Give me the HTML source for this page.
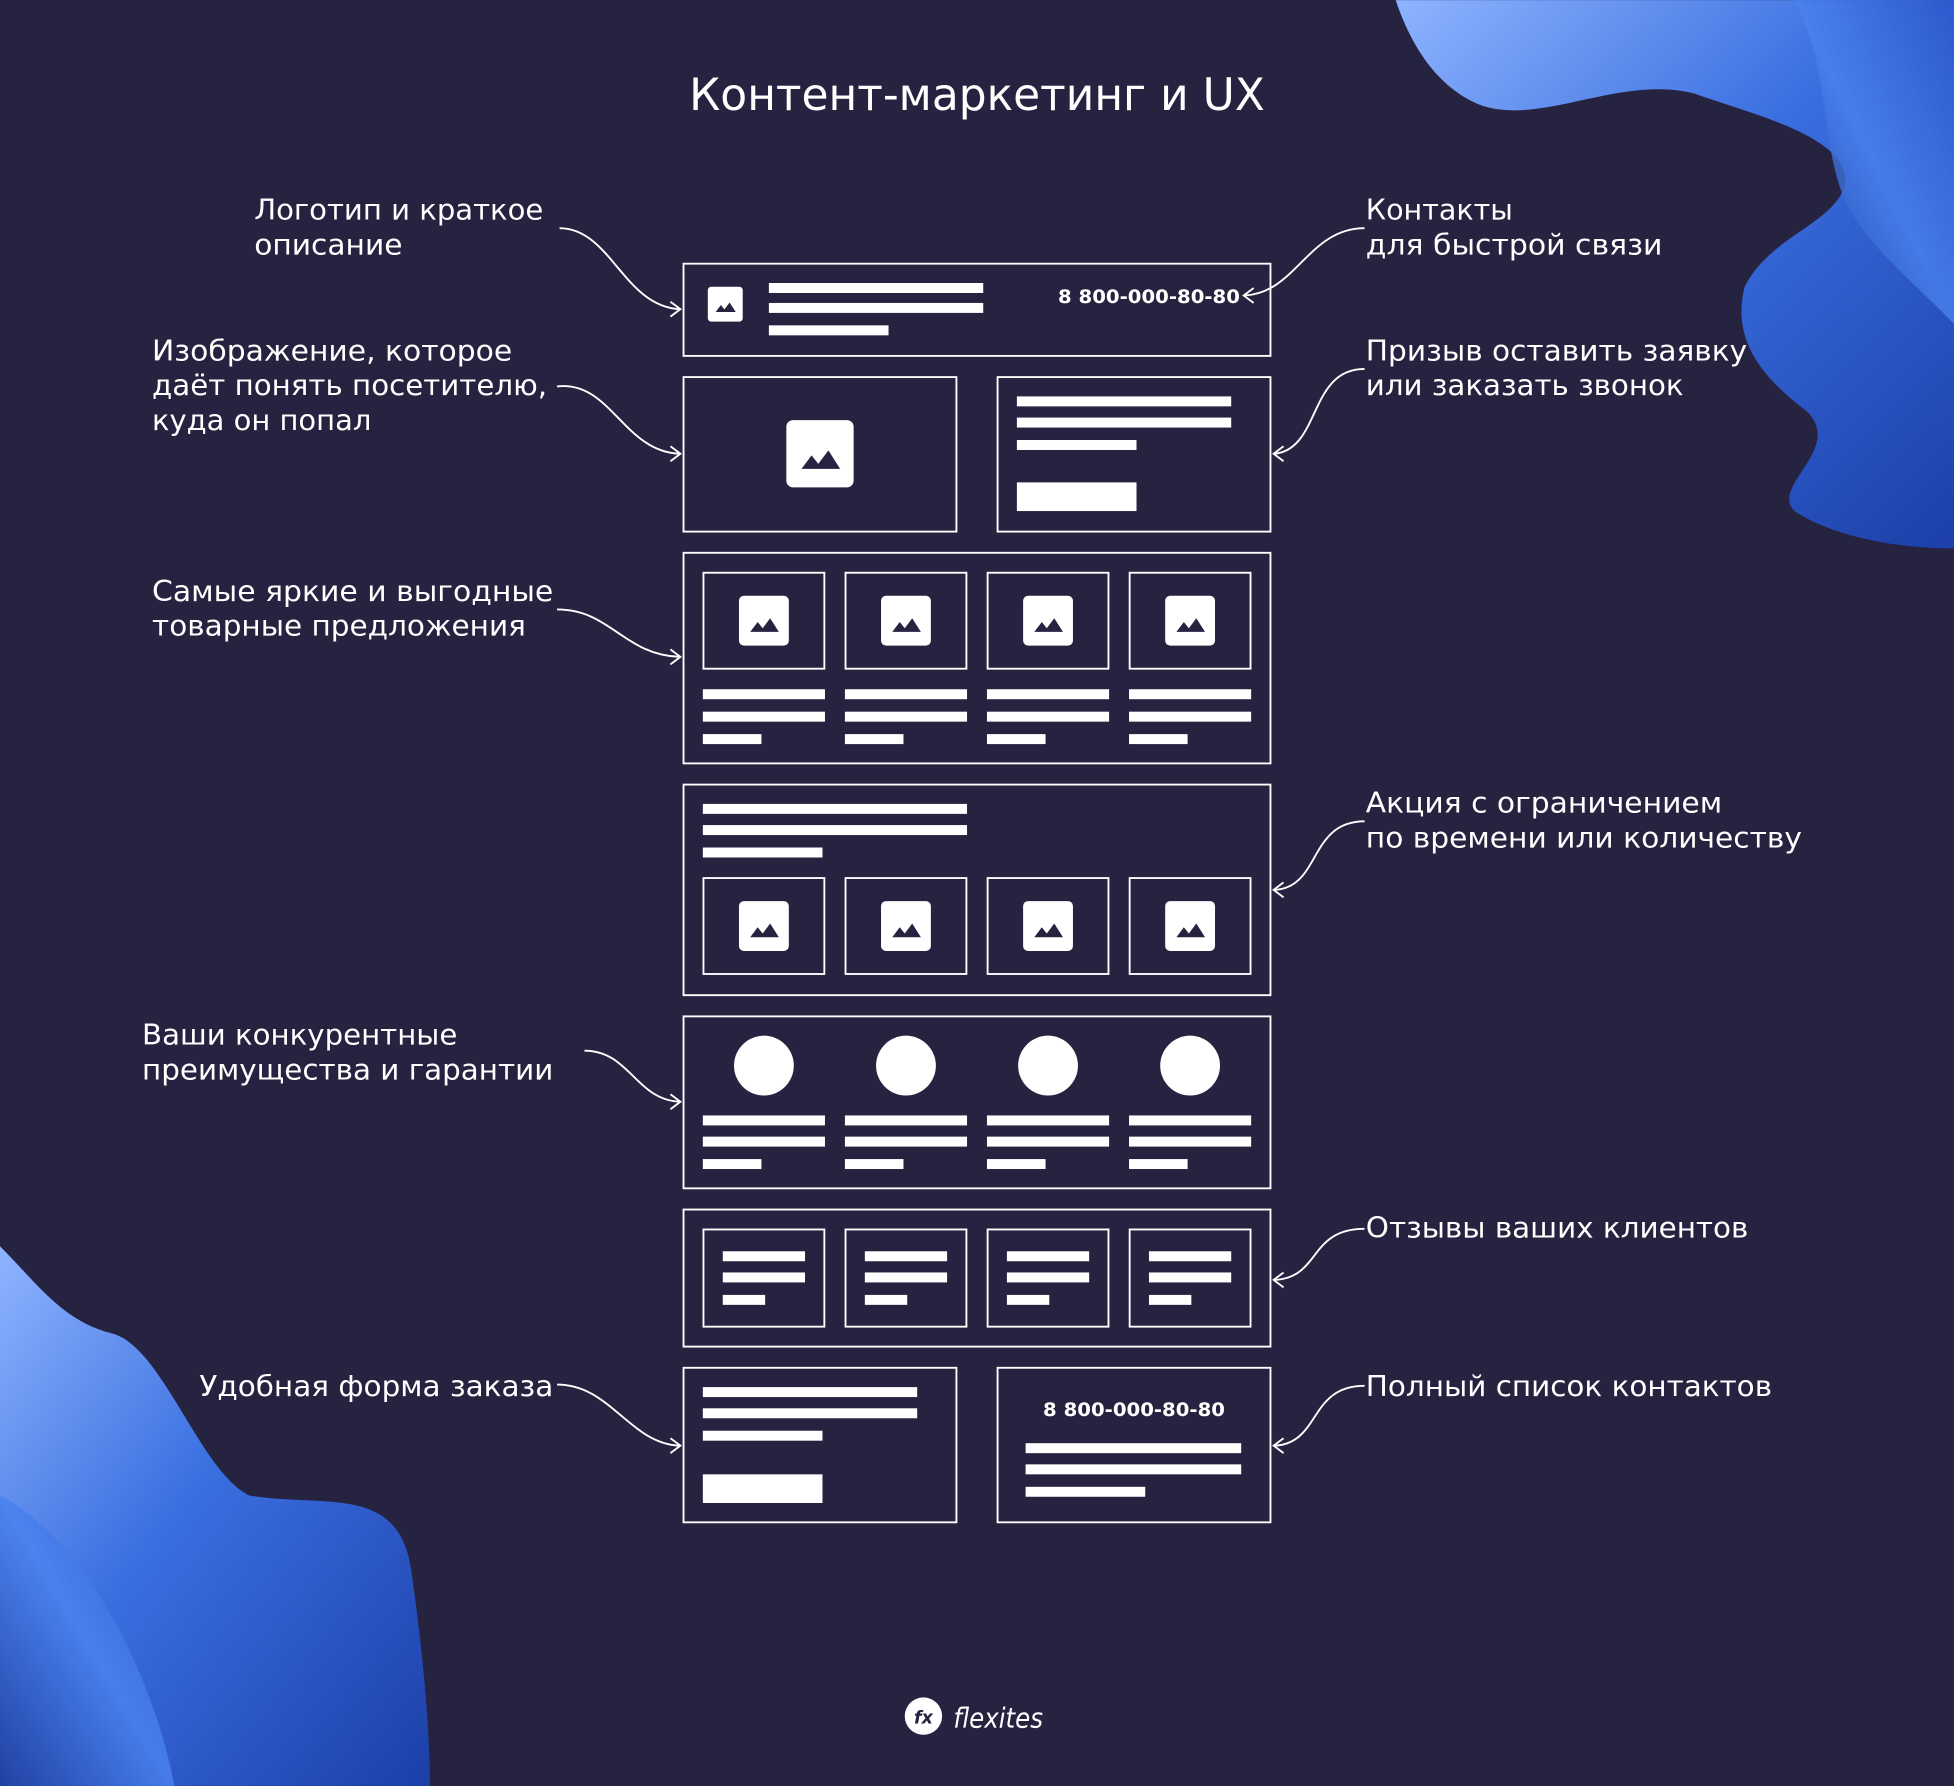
<!DOCTYPE html>
<html><head><meta charset="utf-8"><style>
html,body{margin:0;padding:0;background:#262341;overflow:hidden}
svg{display:block}
text{font-family:"DejaVu Sans","Liberation Sans",sans-serif;fill:#fff}
</style></head><body>
<svg width="1954" height="1786" viewBox="0 0 1568 1433" xmlns="http://www.w3.org/2000/svg">
<defs>
<linearGradient id="bl" x1="0" y1="0" x2="1" y2="1">
<stop offset="0" stop-color="#8fb4ff"/><stop offset="0.45" stop-color="#3a6fe0"/><stop offset="1" stop-color="#1c3fa8"/></linearGradient>
<linearGradient id="bl2" x1="1" y1="0" x2="0" y2="1">
<stop offset="0" stop-color="#2a55c8"/><stop offset="0.5" stop-color="#4a82ee"/><stop offset="1" stop-color="#1d3a9a"/></linearGradient>
<g id="img"><rect x="-20" y="-20" width="40" height="40" rx="4" fill="#fff"/><path d="M-11 9 L-5 1 L-1 6 L5 -2 L12 9 Z" fill="#262341"/></g>
</defs>
<rect width="1568" height="1433" fill="#262341"/>
<path d="M1120 0 L1568 0 L1568 440 C1520 440 1470 430 1440 410 C1420 390 1480 360 1450 330 C1410 300 1390 270 1400 230 C1420 190 1470 180 1480 150 C1490 110 1400 90 1360 75 C1300 60 1240 100 1190 85 C1150 70 1130 30 1120 0 Z" fill="url(#bl)"/>
<path d="M1440 0 L1568 0 L1568 260 C1540 230 1500 200 1480 160 C1460 110 1470 60 1440 0 Z" fill="url(#bl2)" opacity="0.8"/>
<path d="M0 1000 C30 1030 50 1060 90 1070 C130 1080 160 1180 200 1200 C260 1210 320 1190 330 1260 C340 1330 345 1390 345 1433 L0 1433 Z" fill="url(#bl)"/>
<path d="M0 1200 C60 1230 120 1330 140 1433 L0 1433 Z" fill="url(#bl2)" opacity="0.85"/>
<text x="553" y="88" font-size="36" textLength="462" lengthAdjust="spacingAndGlyphs">Контент-маркетинг и UX</text>
<g fill="none" stroke="#fff" stroke-width="1.5">
<rect x="548.5" y="211.5" width="471" height="74"/>
<rect x="548.5" y="302.5" width="219" height="124"/>
<rect x="800.5" y="302.5" width="219" height="124"/>
<rect x="548.5" y="443.5" width="471" height="169"/>
<rect x="548.5" y="629.5" width="471" height="169"/>
<rect x="548.5" y="815.5" width="471" height="138"/>
<rect x="548.5" y="970.5" width="471" height="110"/>
<rect x="548.5" y="1097.5" width="219" height="124"/>
<rect x="800.5" y="1097.5" width="219" height="124"/>
<rect x="564.5" y="459.5" width="97" height="77"/><rect x="678.5" y="459.5" width="97" height="77"/><rect x="792.5" y="459.5" width="97" height="77"/><rect x="906.5" y="459.5" width="97" height="77"/>
<rect x="564.5" y="704.5" width="97" height="77"/><rect x="678.5" y="704.5" width="97" height="77"/><rect x="792.5" y="704.5" width="97" height="77"/><rect x="906.5" y="704.5" width="97" height="77"/>
<rect x="564.5" y="986.5" width="97" height="78"/><rect x="678.5" y="986.5" width="97" height="78"/><rect x="792.5" y="986.5" width="97" height="78"/><rect x="906.5" y="986.5" width="97" height="78"/>
<path d="M449 183 C490 183 500 245 545 248 M538 242 L546 248 L538 254"/>
<path d="M447 310 C490 305 500 362 545 364 M538 358 L546 364 L538 370"/>
<path d="M447 489 C490 489 500 525 545 527 M538 521 L546 527 L538 533"/>
<path d="M469 843 C505 843 510 882 545 884 M538 878 L546 884 L538 890"/>
<path d="M447 1111 C490 1111 505 1158 545 1160 M538 1154 L546 1160 L538 1166"/>
<path d="M1095 183 C1050 183 1040 235 999 237 M1006 231 L998 237 L1006 243"/>
<path d="M1095 296 C1050 296 1060 360 1023 364 M1030 358 L1022 364 L1030 370"/>
<path d="M1095 659 C1050 659 1060 712 1023 714 M1030 708 L1022 714 L1030 720"/>
<path d="M1095 986 C1050 986 1060 1025 1023 1027 M1030 1021 L1022 1027 L1030 1033"/>
<path d="M1095 1112 C1050 1112 1060 1158 1023 1160 M1030 1154 L1022 1160 L1030 1166"/>
</g>
<g fill="#fff">
<g transform="translate(582,244) scale(0.7)"><use href="#img"/></g>
<rect x="617" y="227" width="172" height="8"/><rect x="617" y="243" width="172" height="8"/><rect x="617" y="261" width="96" height="8"/>
<g transform="translate(658,364) scale(1.35)"><use href="#img"/></g>
<rect x="816" y="318" width="172" height="8"/><rect x="816" y="335" width="172" height="8"/><rect x="816" y="353" width="96" height="8"/><rect x="816" y="387" width="96" height="23"/>
<use href="#img" x="613" y="498"/><use href="#img" x="727" y="498"/><use href="#img" x="841" y="498"/><use href="#img" x="955" y="498"/>
<rect x="564" y="553" width="98" height="8"/><rect x="678" y="553" width="98" height="8"/><rect x="792" y="553" width="98" height="8"/><rect x="906" y="553" width="98" height="8"/>
<rect x="564" y="571" width="98" height="8"/><rect x="678" y="571" width="98" height="8"/><rect x="792" y="571" width="98" height="8"/><rect x="906" y="571" width="98" height="8"/>
<rect x="564" y="589" width="47" height="8"/><rect x="678" y="589" width="47" height="8"/><rect x="792" y="589" width="47" height="8"/><rect x="906" y="589" width="47" height="8"/>
<rect x="564" y="645" width="212" height="8"/><rect x="564" y="662" width="212" height="8"/><rect x="564" y="680" width="96" height="8"/>
<use href="#img" x="613" y="743"/><use href="#img" x="727" y="743"/><use href="#img" x="841" y="743"/><use href="#img" x="955" y="743"/>
<circle cx="613" cy="855" r="24"/><circle cx="727" cy="855" r="24"/><circle cx="841" cy="855" r="24"/><circle cx="955" cy="855" r="24"/>
<rect x="564" y="895" width="98" height="8"/><rect x="678" y="895" width="98" height="8"/><rect x="792" y="895" width="98" height="8"/><rect x="906" y="895" width="98" height="8"/>
<rect x="564" y="912" width="98" height="8"/><rect x="678" y="912" width="98" height="8"/><rect x="792" y="912" width="98" height="8"/><rect x="906" y="912" width="98" height="8"/>
<rect x="564" y="930" width="47" height="8"/><rect x="678" y="930" width="47" height="8"/><rect x="792" y="930" width="47" height="8"/><rect x="906" y="930" width="47" height="8"/>
<rect x="580" y="1004" width="66" height="8"/><rect x="694" y="1004" width="66" height="8"/><rect x="808" y="1004" width="66" height="8"/><rect x="922" y="1004" width="66" height="8"/>
<rect x="580" y="1021" width="66" height="8"/><rect x="694" y="1021" width="66" height="8"/><rect x="808" y="1021" width="66" height="8"/><rect x="922" y="1021" width="66" height="8"/>
<rect x="580" y="1039" width="34" height="8"/><rect x="694" y="1039" width="34" height="8"/><rect x="808" y="1039" width="34" height="8"/><rect x="922" y="1039" width="34" height="8"/>
<rect x="564" y="1113" width="172" height="8"/><rect x="564" y="1130" width="172" height="8"/><rect x="564" y="1148" width="96" height="8"/><rect x="564" y="1183" width="96" height="23"/>
<rect x="823" y="1158" width="173" height="8"/><rect x="823" y="1175" width="173" height="8"/><rect x="823" y="1193" width="96" height="8"/>
</g>
<text x="849" y="243" font-size="15" font-weight="bold" textLength="146" lengthAdjust="spacingAndGlyphs">8 800-000-80-80</text>
<text x="837" y="1136" font-size="15" font-weight="bold" textLength="146" lengthAdjust="spacingAndGlyphs">8 800-000-80-80</text>
<g font-size="23">
<text x="204" y="176" textLength="232" lengthAdjust="spacingAndGlyphs">Логотип и краткое</text><text x="204" y="204" textLength="119" lengthAdjust="spacingAndGlyphs">описание</text>
<text x="122" y="289" textLength="289" lengthAdjust="spacingAndGlyphs">Изображение, которое</text><text x="122" y="317" textLength="317" lengthAdjust="spacingAndGlyphs">даёт понять посетителю,</text><text x="122" y="345" textLength="176" lengthAdjust="spacingAndGlyphs">куда он попал</text>
<text x="122" y="482" textLength="322" lengthAdjust="spacingAndGlyphs">Самые яркие и выгодные</text><text x="122" y="510" textLength="300" lengthAdjust="spacingAndGlyphs">товарные предложения</text>
<text x="114" y="838" textLength="253" lengthAdjust="spacingAndGlyphs">Ваши конкурентные</text><text x="114" y="866" textLength="330" lengthAdjust="spacingAndGlyphs">преимущества и гарантии</text>
<text x="160" y="1120" textLength="284" lengthAdjust="spacingAndGlyphs">Удобная форма заказа</text>
<text x="1096" y="176" textLength="118" lengthAdjust="spacingAndGlyphs">Контакты</text><text x="1096" y="204" textLength="238" lengthAdjust="spacingAndGlyphs">для быстрой связи</text>
<text x="1096" y="289" textLength="306" lengthAdjust="spacingAndGlyphs">Призыв оставить заявку</text><text x="1096" y="317" textLength="255" lengthAdjust="spacingAndGlyphs">или заказать звонок</text>
<text x="1096" y="652" textLength="286" lengthAdjust="spacingAndGlyphs">Акция с ограничением</text><text x="1096" y="680" textLength="350" lengthAdjust="spacingAndGlyphs">по времени или количеству</text>
<text x="1096" y="993" textLength="307" lengthAdjust="spacingAndGlyphs">Отзывы ваших клиентов</text>
<text x="1096" y="1120" textLength="326" lengthAdjust="spacingAndGlyphs">Полный список контактов</text>
</g>
<circle cx="741" cy="1377" r="15" fill="#fff"/>
<text x="741" y="1383" font-size="14" font-weight="bold" font-style="italic" text-anchor="middle" style="fill:#262341">fx</text>
<text x="765" y="1386" font-size="22" font-style="italic" textLength="72" lengthAdjust="spacingAndGlyphs">flexites</text>
</svg>
</body></html>
